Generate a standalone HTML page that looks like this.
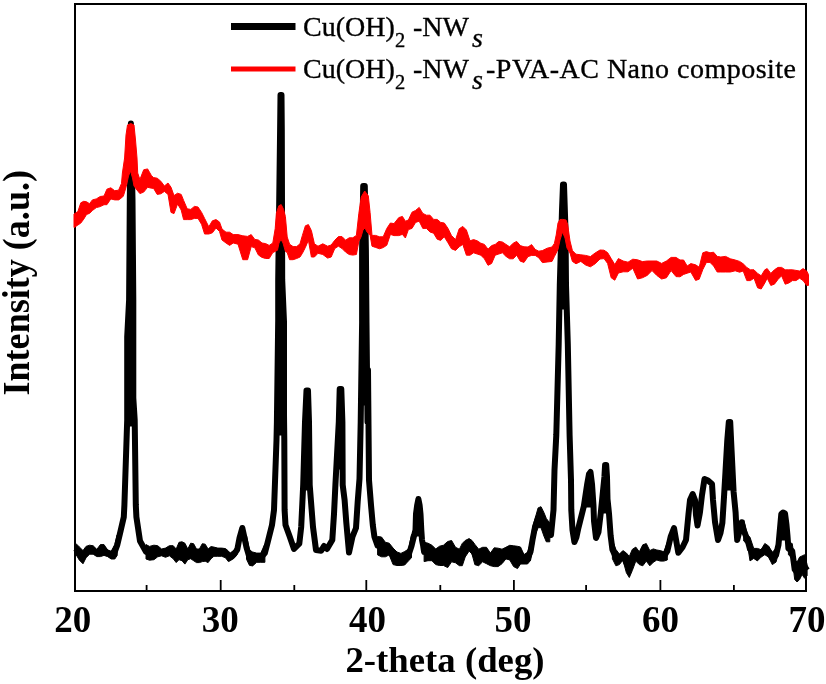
<!DOCTYPE html>
<html><head><meta charset="utf-8">
<style>
html,body{margin:0;padding:0;background:#fff;}
body{width:826px;height:684px;overflow:hidden;position:relative;}
svg{position:absolute;left:0;top:0;will-change:transform;}
.t{font-family:"Liberation Serif",serif;}
</style></head>
<body>
<svg width="826" height="684" viewBox="0 0 826 684">
<rect x="0" y="0" width="826" height="684" fill="#fff"/>
<rect x="75" y="4" width="731" height="587" fill="none" stroke="#000" stroke-width="2"/>
<g stroke="#000" stroke-width="1.8">
<line x1="146.6" y1="590" x2="146.6" y2="585" />
<line x1="220.7" y1="590" x2="220.7" y2="580" />
<line x1="294.3" y1="590" x2="294.3" y2="585" />
<line x1="366.3" y1="590" x2="366.3" y2="580" />
<line x1="440.3" y1="590" x2="440.3" y2="585" />
<line x1="513.9" y1="590" x2="513.9" y2="580" />
<line x1="586.1" y1="590" x2="586.1" y2="585" />
<line x1="660.4" y1="590" x2="660.4" y2="580" />
<line x1="733.9" y1="590" x2="733.9" y2="585" />
</g>
<polyline points="74.5,549.0 75.8,548.8 79.4,553.6 83.0,557.2 86.0,552.1 89.6,549.7 93.2,550.0 96.8,553.0 100.4,550.6 104.0,550.0 107.6,553.3 111.2,555.1 114.8,551.8 117.2,545.2 120.8,530.0 123.8,517.0 124.4,505.0 127.2,420.0 127.2,337.0 129.1,300.0 129.8,200.0 130.9,123.5 131.5,150.0 132.5,200.0 133.3,300.0 133.3,398.0 134.7,420.0 135.8,505.0 136.4,517.0 140.0,541.0 146.0,551.8 149.5,553.3 153.9,552.5 157.7,551.2 161.6,552.4 165.5,552.7 169.4,550.8 173.2,552.2 176.2,555.8 179.0,551.0 182.0,551.2 184.9,553.7 187.8,554.4 190.7,551.0 193.6,552.2 196.5,555.8 199.4,555.8 202.3,552.7 205.2,552.7 208.1,555.8 211.0,552.7 213.9,551.7 217.8,552.2 221.7,552.2 225.5,553.2 228.4,556.3 230.1,557.0 234.2,554.1 237.3,549.5 239.5,538.0 242.3,528.0 244.5,538.0 246.5,547.5 249.5,557.7 252.6,559.0 256.7,557.7 260.8,557.7 264.9,553.1 267.5,543.0 272.0,525.0 274.0,510.0 276.5,440.0 276.9,422.0 278.2,320.0 278.2,280.0 280.1,130.0 280.5,95.0 281.5,95.0 281.8,130.0 282.2,280.0 284.0,322.0 284.0,415.0 284.3,440.0 284.6,510.0 285.5,525.0 289.5,536.0 294.0,549.0 299.3,543.7 301.2,527.0 303.2,485.0 305.0,422.0 306.5,390.5 308.0,390.5 309.0,422.0 309.7,485.0 313.0,527.0 316.0,550.0 321.2,550.7 324.0,546.0 327.0,549.0 332.3,540.0 334.0,514.0 335.4,485.0 338.8,422.0 339.7,389.0 341.3,389.0 342.4,422.0 342.7,485.0 344.6,500.0 346.3,522.6 349.0,552.5 352.5,536.7 356.0,528.0 357.7,501.6 359.5,478.8 360.7,422.0 362.1,323.0 362.1,250.0 363.2,186.0 364.8,186.0 365.9,250.0 366.5,323.0 367.5,422.0 368.0,370.0 369.0,480.0 371.0,505.0 372.8,525.0 374.4,536.7 377.6,545.7 381.5,546.9 385.4,549.5 389.2,549.0 393.1,556.4 397.0,558.8 400.9,559.5 404.7,558.2 408.6,554.9 411.5,546.1 413.0,540.0 415.5,530.0 416.0,514.0 417.2,505.0 418.4,499.0 419.6,505.0 420.5,514.0 421.3,530.0 422.0,540.0 423.2,546.0 424.1,552.0 428.0,552.0 431.9,553.0 435.7,556.8 439.6,555.9 443.5,555.4 447.7,554.5 451.6,551.1 455.5,555.0 459.4,557.5 462.3,554.5 465.2,548.8 469.1,544.9 472.0,547.2 474.9,554.5 478.7,557.5 482.6,554.5 486.5,555.5 490.4,559.4 494.2,557.2 498.1,557.4 502.0,556.5 505.9,553.1 509.7,552.6 513.6,556.2 517.5,557.5 520.5,555.5 524.0,559.3 527.5,558.1 530.5,551.8 530.5,551.8 532.8,538.3 535.1,526.6 538.1,517.8 541.0,517.2 543.9,524.2 546.3,530.1 549.8,532.5 551.0,535.0 553.5,510.0 554.5,470.0 556.3,435.0 558.7,344.0 559.8,285.0 562.0,210.0 563.0,184.5 564.0,184.5 565.5,230.0 566.0,285.0 567.8,344.0 569.6,435.0 571.0,480.0 571.3,510.0 572.5,530.0 574.4,542.0 576.5,537.0 578.4,528.0 583.9,506.0 587.2,484.0 589.0,474.0 590.5,472.0 592.0,484.0 593.5,506.0 594.0,521.0 596.0,538.0 598.5,532.0 600.7,513.5 602.2,499.0 604.4,477.0 605.1,465.0 606.2,465.0 607.0,477.0 607.5,499.0 609.0,513.5 610.6,535.4 612.4,549.5 615.9,557.6 619.4,559.4 622.9,555.3 626.4,562.9 629.3,567.0 632.3,560.0 635.8,554.1 639.3,558.2 642.8,555.3 646.3,552.4 649.8,558.2 653.3,555.6 656.8,555.0 660.3,555.9 663.8,556.5 667.3,551.2 670.8,536.3 674.0,528.0 678.3,552.8 682.5,547.2 686.0,540.0 688.5,514.0 690.0,500.0 692.7,494.0 695.0,500.0 696.0,515.0 697.5,525.5 699.5,515.0 700.0,512.0 702.0,495.0 704.5,479.0 708.0,480.5 712.0,484.0 713.0,500.0 715.0,522.0 718.0,540.0 720.5,533.0 722.4,522.6 724.0,497.0 725.5,471.4 727.3,440.0 728.8,422.0 730.2,422.0 731.6,451.0 733.6,492.0 735.6,512.4 736.5,530.0 737.2,540.0 741.7,522.2 743.7,530.5 747.5,539.8 750.0,549.1 753.7,553.4 757.4,554.6 761.1,553.4 764.8,549.1 768.6,551.5 772.3,558.4 776.0,555.2 778.5,544.7 780.3,525.0 781.3,514.0 783.0,512.5 785.0,513.5 786.5,525.0 787.5,536.0 788.4,548.5 792.2,551.0 794.7,569.5 797.1,572.0 799.6,568.3 802.1,565.2 804.6,566.5 807.1,570.2" fill="none" stroke="#000" stroke-width="6" stroke-linejoin="round" stroke-linecap="butt"/>
<g fill="#000" stroke="#000" stroke-width="1" stroke-linejoin="round">
<polygon points="74.5,543.0 75.8,543.4 79.4,547.0 83.0,550.6 86.0,546.4 89.6,545.2 93.2,545.8 96.8,549.4 100.4,544.6 104.0,544.6 107.6,550.0 111.2,551.2 114.8,544.6 117.2,535.0 117.2,555.4 114.8,559.0 111.2,559.0 107.6,556.6 104.0,555.4 100.4,556.6 96.8,556.6 93.2,554.2 89.6,554.2 86.0,557.8 83.0,563.8 79.4,560.2 75.8,554.2 74.5,555.0"/>
<polygon points="146.0,544.6 149.5,546.4 153.9,545.2 157.7,545.7 161.6,549.0 165.5,548.1 169.4,545.7 173.2,545.7 176.2,549.0 179.0,542.3 182.0,541.8 184.9,543.2 187.8,549.0 190.7,543.2 193.6,543.7 196.5,549.0 199.4,549.0 202.3,543.7 205.2,544.2 208.1,549.0 211.0,546.6 213.9,547.1 217.8,548.1 221.7,548.1 225.5,548.6 228.4,551.0 230.1,553.1 234.2,550.0 237.3,544.9 237.3,554.1 234.2,558.2 230.1,560.8 228.4,561.6 225.5,557.8 221.7,556.3 217.8,556.3 213.9,556.3 211.0,558.7 208.1,562.6 205.2,561.2 202.3,561.6 199.4,562.6 196.5,562.6 193.6,560.7 190.7,558.7 187.8,559.7 184.9,564.1 182.0,560.7 179.0,559.7 176.2,562.6 173.2,558.7 169.4,555.8 165.5,557.3 161.6,555.8 157.7,556.8 153.9,559.7 149.5,560.2 146.0,559.0"/>
<polygon points="246.5,535.7 249.5,550.0 252.6,552.0 256.7,553.1 260.8,553.1 264.9,543.9 264.9,562.3 260.8,562.3 256.7,562.3 252.6,565.9 249.5,565.4 246.5,559.2"/>
<polygon points="377.6,536.5 381.5,537.0 385.4,542.3 389.2,543.2 393.1,548.1 397.0,552.0 400.9,553.4 404.7,551.5 408.6,549.0 411.5,534.5 411.5,557.8 408.6,560.7 404.7,565.0 400.9,565.5 397.0,565.5 393.1,564.6 389.2,554.9 385.4,556.8 381.5,556.8 377.6,554.9"/>
<polygon points="424.1,542.3 428.0,543.2 431.9,545.2 435.7,549.0 439.6,546.2 443.5,545.2 447.7,541.5 451.6,540.5 455.5,547.3 459.4,549.2 462.3,543.4 465.2,540.5 469.1,538.6 472.0,540.5 474.9,544.4 478.7,549.2 482.6,547.3 486.5,547.3 490.4,553.1 494.2,547.8 498.1,548.2 502.0,549.2 505.9,547.3 509.7,545.3 513.6,545.8 517.5,546.3 520.5,547.0 524.0,554.6 527.5,552.3 530.5,543.0 530.5,560.5 527.5,564.0 524.0,564.0 520.5,564.0 517.5,568.6 513.6,566.6 509.7,559.9 505.9,558.9 502.0,563.7 498.1,566.6 494.2,566.6 490.4,565.7 486.5,563.7 482.6,561.8 478.7,565.7 474.9,564.7 472.0,554.0 469.1,551.1 465.2,557.0 462.3,565.7 459.4,565.7 455.5,562.8 451.6,561.8 447.7,567.6 443.5,565.5 439.6,565.5 435.7,564.6 431.9,560.7 428.0,560.7 424.1,561.6"/>
<polygon points="530.5,543.0 532.8,526.6 535.1,518.4 538.1,507.9 541.0,506.7 543.9,512.5 546.3,518.4 549.8,523.1 549.8,541.8 546.3,541.8 543.9,536.0 541.0,527.7 538.1,527.7 535.1,534.8 532.8,550.0 530.5,560.5"/>
<polygon points="612.4,540.1 615.9,549.4 619.4,554.1 622.9,550.6 626.4,553.0 629.3,556.5 632.3,549.4 635.8,547.1 639.3,551.8 642.8,544.8 646.3,543.6 649.8,550.6 653.3,548.9 656.8,550.0 660.3,550.6 663.8,551.8 667.3,542.4 667.3,560.0 663.8,561.1 660.3,561.1 656.8,560.0 653.3,562.3 649.8,565.8 646.3,561.1 642.8,565.8 639.3,564.6 635.8,561.1 632.3,570.5 629.3,577.5 626.4,572.8 622.9,560.0 619.4,564.6 615.9,565.8 612.4,558.8"/>
<polygon points="743.7,519.9 747.5,534.8 750.0,537.3 753.7,548.4 757.4,548.4 761.1,549.7 764.8,543.5 768.6,546.0 772.3,552.2 776.0,548.4 778.5,536.0 778.5,553.4 776.0,562.1 772.3,564.6 768.6,557.1 764.8,554.7 761.1,557.1 757.4,560.9 753.7,558.4 750.0,560.9 747.5,544.7 743.7,541.0"/>
<polygon points="788.4,542.2 792.2,543.5 794.7,559.6 797.1,562.1 799.6,557.1 802.1,555.9 804.6,554.7 807.1,564.6 807.1,575.8 804.6,578.3 802.1,574.5 799.6,579.5 797.1,582.0 794.7,579.5 792.2,558.4 788.4,554.7"/>
<polygon points="127.0,426.0 127.2,420.0 127.2,337.0 129.1,300.0 129.8,200.0 130.9,123.5 131.5,150.0 132.5,200.0 133.3,300.0 133.3,398.0 134.7,420.0 134.8,426.0"/>
<polygon points="276.6,435.0 276.9,422.0 278.2,320.0 278.2,280.0 280.1,130.0 280.5,95.0 281.5,95.0 281.8,130.0 282.2,280.0 284.0,322.0 284.0,415.0 284.2,435.0"/>
<polygon points="303.0,490.0 303.2,485.0 305.0,422.0 306.5,390.5 308.0,390.5 309.0,422.0 309.7,485.0 310.1,490.0"/>
<polygon points="336.3,469.0 338.8,422.0 339.7,389.0 341.3,389.0 342.4,422.0 342.6,469.0"/>
<polygon points="360.9,405.0 362.1,323.0 362.1,250.0 363.2,186.0 364.8,186.0 365.9,250.0 366.5,323.0 367.3,405.0"/>
<polygon points="559.4,309.0 559.8,285.0 562.0,210.0 563.0,184.5 564.0,184.5 565.5,230.0 566.0,285.0 566.7,309.0"/>
<polygon points="414.0,536.0 415.5,530.0 416.0,514.0 417.2,505.0 418.4,499.0 419.6,505.0 420.5,514.0 421.3,530.0 421.7,536.0"/>
<polygon points="724.4,490.0 725.5,471.4 727.3,440.0 728.8,422.0 730.2,422.0 731.6,451.0 733.5,490.0"/>
<polygon points="583.6,507.0 583.9,506.0 587.2,484.0 589.0,474.0 590.5,472.0 592.0,484.0 593.5,506.0 593.5,507.0"/>
<polygon points="600.8,513.0 602.2,499.0 604.4,477.0 605.1,465.0 606.2,465.0 607.0,477.0 607.5,499.0 608.9,513.0"/>
<polygon points="778.9,540.0 780.3,525.0 781.3,514.0 783.0,512.5 785.0,513.5 786.5,525.0 787.5,536.0 787.8,540.0"/>
</g>
<polygon points="74.0,214.0 75.0,213.4 77.9,211.5 80.8,202.8 83.7,201.3 86.6,201.8 89.5,203.7 92.4,199.9 96.3,198.9 100.2,196.5 104.0,196.0 106.9,189.2 110.8,187.8 114.7,190.7 118.6,190.2 121.5,183.4 122.4,173.0 124.6,158.0 126.0,135.0 127.5,125.0 130.8,123.5 134.0,125.0 135.5,140.0 137.0,158.0 137.7,173.0 139.9,179.5 143.7,169.8 147.6,168.9 151.5,175.7 153.6,177.6 157.2,178.2 160.8,181.2 164.4,186.0 168.0,183.0 171.0,187.2 174.0,195.6 177.6,193.2 181.2,194.4 183.6,200.4 187.2,208.8 190.8,209.4 194.4,206.4 198.0,207.0 201.6,212.4 204.6,218.4 208.8,226.8 212.4,220.8 216.0,219.6 219.5,222.0 222.0,229.0 226.0,232.2 229.6,232.2 233.2,234.6 238.0,234.6 242.8,235.8 247.6,236.4 251.2,234.6 254.8,239.4 258.4,240.0 262.0,243.0 265.6,243.6 269.2,245.4 272.8,243.0 275.2,228.6 276.4,213.0 278.8,205.8 281.2,204.6 283.6,209.4 285.4,216.6 287.2,237.0 289.6,244.2 293.1,246.6 296.7,246.6 300.0,243.8 302.4,235.4 305.4,225.8 308.4,224.6 311.4,230.6 314.4,243.8 318.0,246.2 322.8,243.8 327.6,246.2 331.2,245.0 334.8,240.2 338.4,236.6 342.0,236.6 345.6,240.2 349.2,237.8 352.8,237.8 356.4,235.4 358.8,213.8 361.2,197.0 364.7,191.0 368.3,195.8 370.1,212.6 372.0,235.4 375.5,235.4 379.6,236.8 383.2,236.8 386.8,228.4 390.4,223.0 394.0,223.6 398.8,217.6 402.4,216.4 405.4,221.2 408.4,220.0 412.0,212.2 415.6,210.4 419.2,207.4 422.8,213.4 426.4,215.2 430.0,215.2 433.6,219.4 437.2,219.4 440.7,222.4 444.3,223.0 448.0,228.4 451.5,235.6 455.6,239.6 459.2,228.8 462.8,226.4 466.4,230.0 470.0,240.8 473.6,239.6 477.2,240.8 480.8,243.2 484.4,244.4 488.0,249.2 491.6,245.6 495.2,244.4 498.8,241.4 502.4,242.0 506.0,244.4 509.6,246.8 513.2,243.2 516.7,241.4 520.3,245.6 524.0,246.8 528.0,247.0 531.6,244.6 535.2,249.4 538.8,251.2 542.4,250.6 547.2,248.2 552.0,247.0 554.4,243.4 556.2,235.0 558.0,223.0 560.0,219.5 562.8,219.4 566.0,220.0 567.6,224.2 570.0,241.0 572.4,250.6 576.0,254.2 580.8,254.8 585.6,255.4 590.4,256.6 595.1,253.0 600.0,250.0 604.0,250.2 607.6,252.6 611.2,258.6 614.8,264.6 618.4,258.6 623.2,261.0 628.0,262.2 632.8,259.2 637.6,259.8 642.4,261.6 647.2,261.0 652.0,261.0 656.8,261.0 661.6,263.4 666.4,261.0 671.1,257.4 676.0,257.4 680.0,260.0 683.6,260.0 687.2,266.0 690.8,263.6 695.6,264.8 699.2,267.2 702.8,252.8 706.4,251.6 710.0,252.8 713.6,252.2 717.2,256.4 720.8,257.0 725.6,256.4 730.4,258.8 735.2,260.0 739.6,261.4 743.2,263.8 746.8,267.4 750.4,269.8 754.0,269.8 757.6,273.4 761.2,275.8 764.8,269.8 767.2,268.6 770.8,273.4 774.4,269.8 778.0,267.4 781.6,267.4 785.2,269.8 788.8,269.8 792.4,269.8 796.0,270.4 799.6,271.0 803.1,268.6 806.7,271.0 808.5,274.6 808.5,285.4 806.7,285.4 803.1,280.6 799.6,278.2 796.0,280.6 792.4,280.6 788.8,283.0 785.2,284.2 781.6,275.8 778.0,279.4 774.4,284.2 770.8,285.4 767.2,278.2 764.8,283.0 761.2,289.0 757.6,287.8 754.0,278.2 750.4,280.6 746.8,280.6 743.2,271.0 739.6,272.2 735.2,270.8 730.4,272.0 725.6,272.0 720.8,272.0 717.2,272.0 713.6,266.0 710.0,262.4 706.4,262.4 702.8,269.6 699.2,279.2 695.6,280.4 690.8,272.0 687.2,273.2 683.6,274.4 680.0,276.8 676.0,276.6 671.1,270.6 666.4,277.8 661.6,279.0 656.8,275.4 652.0,270.6 647.2,275.4 642.4,277.8 637.6,279.0 632.8,268.2 628.0,271.8 623.2,271.8 618.4,273.0 614.8,280.2 611.2,277.8 607.6,263.4 604.0,258.6 600.0,259.0 595.1,263.8 590.4,266.8 585.6,265.0 580.8,261.4 576.0,263.8 572.4,261.4 570.0,253.0 567.0,248.0 565.0,238.0 562.5,232.0 560.0,240.0 558.0,249.4 556.2,253.0 554.4,256.6 552.0,261.4 547.2,262.0 542.4,262.6 538.8,257.8 535.2,255.4 531.6,255.4 528.0,256.6 524.0,262.4 520.3,261.2 516.7,255.2 513.2,258.8 509.6,258.8 506.0,256.4 502.4,252.8 498.8,254.0 495.2,255.2 491.6,263.5 488.0,265.3 484.4,258.8 480.8,255.2 477.2,254.0 473.6,252.8 470.0,255.2 466.4,255.2 462.8,244.4 459.2,246.8 455.6,250.4 451.5,248.8 448.0,242.8 444.3,236.8 440.7,240.4 437.2,239.2 433.6,233.2 430.0,232.0 426.4,228.4 422.8,228.4 419.2,221.2 415.6,222.4 412.0,228.4 408.4,229.6 405.4,238.0 402.4,234.4 398.8,235.6 394.0,235.6 390.4,234.4 386.8,245.2 383.2,247.6 379.6,248.8 375.5,247.4 372.0,246.2 370.1,235.4 367.0,232.0 365.0,228.0 363.0,230.0 361.0,237.0 358.8,241.4 356.4,254.5 352.8,255.1 349.2,254.5 345.6,252.1 342.0,248.5 338.4,246.2 334.8,248.5 331.2,257.0 327.6,258.1 322.8,254.5 318.0,253.3 314.4,257.0 311.4,257.0 308.4,240.2 305.4,247.4 302.4,253.3 300.0,257.0 296.7,258.5 293.1,259.7 289.6,259.7 287.2,252.6 285.4,251.4 283.0,243.0 281.0,239.4 279.0,243.0 277.5,250.2 275.2,251.4 272.8,252.6 269.2,258.5 265.6,258.5 262.0,257.4 258.4,255.0 254.8,247.8 251.2,246.6 247.6,259.7 242.8,259.7 238.0,244.2 233.2,243.0 229.6,245.4 226.0,243.0 222.0,240.0 219.5,231.5 216.0,228.0 212.4,232.8 208.8,234.0 204.6,234.0 201.6,224.4 198.0,218.4 194.4,218.4 190.8,219.6 187.2,219.6 183.6,219.6 181.2,210.0 177.6,204.0 174.0,213.6 171.0,212.4 168.0,194.4 164.4,191.4 160.8,193.8 157.2,194.4 153.6,188.4 151.5,188.2 147.6,187.3 143.7,192.1 139.9,193.6 137.0,190.0 134.0,186.0 132.5,178.0 130.5,171.0 128.5,176.0 126.3,186.3 123.4,196.0 121.5,197.9 118.6,199.9 114.7,199.9 110.8,198.9 106.9,204.7 104.0,204.7 100.2,206.6 96.3,207.6 92.4,210.5 89.5,213.4 86.6,214.4 83.7,219.2 80.8,223.1 77.9,225.0 75.0,227.0 74.0,227.5" fill="#f00" stroke="#f00" stroke-width="1" stroke-linejoin="round"/>
<g class="t" font-weight="bold" font-size="37" fill="#000">
<text x="72.8" y="632" text-anchor="middle">20</text>
<text x="220.3" y="632" text-anchor="middle">30</text>
<text x="367.5" y="632" text-anchor="middle">40</text>
<text x="513" y="632" text-anchor="middle">50</text>
<text x="660.4" y="632" text-anchor="middle">60</text>
<text x="807" y="632" text-anchor="middle">70</text>
<text x="345.5" y="672" font-size="35" textLength="199" lengthAdjust="spacingAndGlyphs">2-theta (deg)</text>
<text transform="translate(28.5,395.5) rotate(-90)" textLength="225.5" lengthAdjust="spacingAndGlyphs">Intensity (a.u.)</text>
</g>
<line x1="231" y1="26.5" x2="295.5" y2="26.5" stroke="#000" stroke-width="7"/>
<line x1="231" y1="69" x2="295.5" y2="69" stroke="#f00" stroke-width="5"/>
<g class="t" font-size="28" fill="#000" stroke="#000" stroke-width="0.35">
<text x="303" y="36">Cu(OH)</text><text x="395" y="46.5" font-size="20.5">2</text><text x="413" y="36">-NW</text><text x="472" y="47.3" font-style="italic">s</text>
<text x="303" y="77.5">Cu(OH)</text><text x="395" y="88.5" font-size="20.5">2</text><text x="413" y="77.5">-NW</text><text x="472" y="89.3" font-style="italic">s</text>
<text x="486" y="77.5" textLength="310" lengthAdjust="spacing">-PVA-AC Nano composite</text>
</g>
</svg>
</body></html>
